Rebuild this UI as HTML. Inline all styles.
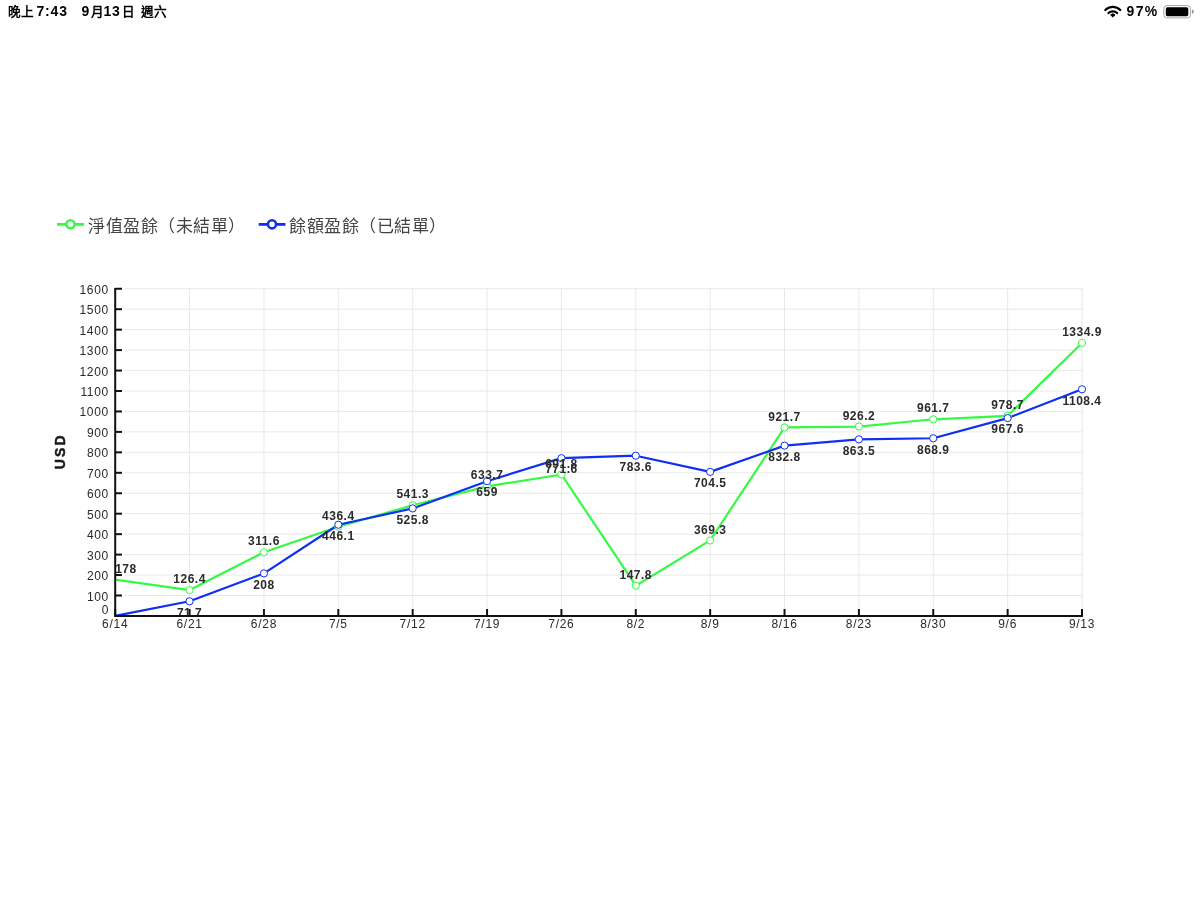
<!DOCTYPE html>
<html lang="zh-TW"><head><meta charset="utf-8">
<style>
html,body{margin:0;padding:0;background:#fff;width:1200px;height:900px;overflow:hidden}
body{font-family:"Liberation Sans",sans-serif;position:relative}
#wrap{position:absolute;left:0;top:0;width:1200px;height:900px;will-change:transform}
svg{position:absolute;left:0;top:0}
.dl{font-family:"Liberation Sans",sans-serif;font-size:12px;font-weight:bold;fill:#2b2b2b;letter-spacing:0.5px}
.tl{font-family:"Liberation Sans",sans-serif;font-size:12px;fill:#2a2a2a;letter-spacing:0.7px}
.usd{font-family:"Liberation Sans",sans-serif;font-size:14px;font-weight:bold;fill:#1a1a1a;stroke:#1a1a1a;stroke-width:0.5px;letter-spacing:2.2px}
.sb{position:absolute;top:0;height:24px;font-weight:bold;font-size:13.5px;color:#000;line-height:23px;white-space:nowrap}
.dg{letter-spacing:0.8px;font-size:14px}
.cj{font-size:12.6px;top:1px}
.leg{position:absolute;top:215.5px;font-size:17px;color:#444;line-height:22px;white-space:nowrap;letter-spacing:0.5px}
</style></head><body><div id="wrap">
<div class="sb cj" style="left:7.6px">晚上</div>
<div class="sb dg" style="left:36.5px">7:43</div>
<div class="sb dg" style="left:81.5px">9</div>
<div class="sb cj" style="left:91px">月</div>
<div class="sb dg" style="left:103.5px">13</div>
<div class="sb cj" style="left:121.5px">日</div>
<div class="sb cj" style="left:141px">週六</div>
<div class="sb dg" style="left:1126.5px;letter-spacing:1.4px">97%</div>
<svg width="1200" height="900" viewBox="0 0 1200 900">
<!-- wifi -->
<g fill="none" stroke="#000" stroke-width="2.2" stroke-linecap="round">
<path d="M1105.30 10.00 A10.4 10.4 0 0 1 1120.30 10.00"/>
<path d="M1108.50 13.10 A6 6 0 0 1 1117.10 13.10"/>
</g>
<path d="M1112.80 17.00 L1110.60 14.90 A3.1 3.1 0 0 1 1115.00 14.90 Z" fill="#000" stroke="#000" stroke-width="0.9" stroke-linejoin="round"/>
<!-- battery -->
<rect x="1163.8" y="5.6" width="26.8" height="12.3" rx="3.2" fill="none" stroke="#a5a5a5" stroke-width="1"/>
<rect x="1165.8" y="7.3" width="22.5" height="8.9" rx="1.6" fill="#000"/>
<path d="M1192 9.6 L1192 13.8 C1193.2 13.4 1193.8 12.6 1193.8 11.7 C1193.8 10.8 1193.2 10 1192 9.6Z" fill="#9a9a9a"/>
<!-- legend icons -->
<line x1="57" y1="224.4" x2="84" y2="224.4" stroke="#35fa45" stroke-width="2.8"/>
<circle cx="70.5" cy="224.3" r="4.1" fill="#fff" stroke="#35fa45" stroke-width="2.6"/>
<line x1="258.7" y1="224.4" x2="285.5" y2="224.4" stroke="#0f2ff5" stroke-width="2.8"/>
<circle cx="272" cy="224.3" r="4.1" fill="#fff" stroke="#0f2ff5" stroke-width="2.6"/>
<g stroke="#e8e8e8" stroke-width="1"><line x1="124" y1="595.50" x2="1082.81" y2="595.50"/><line x1="124" y1="575.05" x2="1082.81" y2="575.05"/><line x1="124" y1="554.60" x2="1082.81" y2="554.60"/><line x1="124" y1="534.15" x2="1082.81" y2="534.15"/><line x1="124" y1="513.70" x2="1082.81" y2="513.70"/><line x1="124" y1="493.25" x2="1082.81" y2="493.25"/><line x1="124" y1="472.80" x2="1082.81" y2="472.80"/><line x1="124" y1="452.35" x2="1082.81" y2="452.35"/><line x1="124" y1="431.90" x2="1082.81" y2="431.90"/><line x1="124" y1="411.45" x2="1082.81" y2="411.45"/><line x1="124" y1="391.00" x2="1082.81" y2="391.00"/><line x1="124" y1="370.55" x2="1082.81" y2="370.55"/><line x1="124" y1="350.10" x2="1082.81" y2="350.10"/><line x1="124" y1="329.65" x2="1082.81" y2="329.65"/><line x1="124" y1="309.20" x2="1082.81" y2="309.20"/><line x1="124" y1="288.75" x2="1082.81" y2="288.75"/><line x1="189.57" y1="288" x2="189.57" y2="609"/><line x1="263.94" y1="288" x2="263.94" y2="609"/><line x1="338.31" y1="288" x2="338.31" y2="609"/><line x1="412.68" y1="288" x2="412.68" y2="609"/><line x1="487.05" y1="288" x2="487.05" y2="609"/><line x1="561.42" y1="288" x2="561.42" y2="609"/><line x1="635.79" y1="288" x2="635.79" y2="609"/><line x1="710.16" y1="288" x2="710.16" y2="609"/><line x1="784.53" y1="288" x2="784.53" y2="609"/><line x1="858.90" y1="288" x2="858.90" y2="609"/><line x1="933.27" y1="288" x2="933.27" y2="609"/><line x1="1007.64" y1="288" x2="1007.64" y2="609"/><line x1="1082.01" y1="288" x2="1082.01" y2="609"/></g>
<polyline points="115.20,579.55 189.57,590.10 263.94,552.23 338.31,526.71 412.68,505.25 487.05,486.36 561.42,474.48 635.79,585.72 710.16,540.43 784.53,427.46 858.90,426.54 933.27,419.28 1007.64,415.81 1082.01,342.96" fill="none" stroke="#35fa45" stroke-width="2.2" stroke-linejoin="round"/>
<polyline points="115.20,615.95 189.57,601.29 263.94,573.41 338.31,524.72 412.68,508.42 487.05,481.18 561.42,458.16 635.79,455.70 710.16,471.88 784.53,445.64 858.90,439.36 933.27,438.26 1007.64,418.08 1082.01,389.28" fill="none" stroke="#0f2ff5" stroke-width="2.2" stroke-linejoin="round"/>
<g fill="#fff" stroke="#35fa45" stroke-width="1"><circle cx="189.57" cy="590.10" r="3.6"/><circle cx="263.94" cy="552.23" r="3.6"/><circle cx="338.31" cy="526.71" r="3.6"/><circle cx="412.68" cy="505.25" r="3.6"/><circle cx="487.05" cy="486.36" r="3.6"/><circle cx="561.42" cy="474.48" r="3.6"/><circle cx="635.79" cy="585.72" r="3.6"/><circle cx="710.16" cy="540.43" r="3.6"/><circle cx="784.53" cy="427.46" r="3.6"/><circle cx="858.90" cy="426.54" r="3.6"/><circle cx="933.27" cy="419.28" r="3.6"/><circle cx="1007.64" cy="415.81" r="3.6"/><circle cx="1082.01" cy="342.96" r="3.6"/></g>
<g fill="#fff" stroke="#0f2ff5" stroke-width="1"><circle cx="189.57" cy="601.29" r="3.6"/><circle cx="263.94" cy="573.41" r="3.6"/><circle cx="338.31" cy="524.72" r="3.6"/><circle cx="412.68" cy="508.42" r="3.6"/><circle cx="487.05" cy="481.18" r="3.6"/><circle cx="561.42" cy="458.16" r="3.6"/><circle cx="635.79" cy="455.70" r="3.6"/><circle cx="710.16" cy="471.88" r="3.6"/><circle cx="784.53" cy="445.64" r="3.6"/><circle cx="858.90" cy="439.36" r="3.6"/><circle cx="933.27" cy="438.26" r="3.6"/><circle cx="1007.64" cy="418.08" r="3.6"/><circle cx="1082.01" cy="389.28" r="3.6"/></g>
<g class="dl" text-anchor="middle"><text x="115.20" y="572.65" text-anchor="start">178</text><text x="189.57" y="583.20">126.4</text><text x="263.94" y="545.33">311.6</text><text x="338.31" y="519.81">436.4</text><text x="412.68" y="498.35">541.3</text><text x="487.05" y="479.46">633.7</text><text x="561.42" y="467.58">691.8</text><text x="635.79" y="578.82">147.8</text><text x="710.16" y="533.53">369.3</text><text x="784.53" y="420.56">921.7</text><text x="858.90" y="419.64">926.2</text><text x="933.27" y="412.38">961.7</text><text x="1007.64" y="408.91">978.7</text><text x="1082.01" y="336.06">1334.9</text><text x="189.57" y="616.59">71.7</text><text x="263.94" y="588.71">208</text><text x="338.31" y="540.02">446.1</text><text x="412.68" y="523.72">525.8</text><text x="487.05" y="496.48">659</text><text x="561.42" y="473.46">771.6</text><text x="635.79" y="471.00">783.6</text><text x="710.16" y="487.18">704.5</text><text x="784.53" y="460.94">832.8</text><text x="858.90" y="454.66">863.5</text><text x="933.27" y="453.56">868.9</text><text x="1007.64" y="433.38">967.6</text><text x="1082.01" y="404.58">1108.4</text></g>
<g stroke="#111" stroke-width="2" stroke-linecap="butt"><line x1="115.20" y1="287.9" x2="115.20" y2="616.5" /><line x1="114.20" y1="615.95" x2="1082.91" y2="615.95" /><line x1="115.20" y1="615.95" x2="122" y2="615.95"/><line x1="115.20" y1="595.50" x2="122" y2="595.50"/><line x1="115.20" y1="575.05" x2="122" y2="575.05"/><line x1="115.20" y1="554.60" x2="122" y2="554.60"/><line x1="115.20" y1="534.15" x2="122" y2="534.15"/><line x1="115.20" y1="513.70" x2="122" y2="513.70"/><line x1="115.20" y1="493.25" x2="122" y2="493.25"/><line x1="115.20" y1="472.80" x2="122" y2="472.80"/><line x1="115.20" y1="452.35" x2="122" y2="452.35"/><line x1="115.20" y1="431.90" x2="122" y2="431.90"/><line x1="115.20" y1="411.45" x2="122" y2="411.45"/><line x1="115.20" y1="391.00" x2="122" y2="391.00"/><line x1="115.20" y1="370.55" x2="122" y2="370.55"/><line x1="115.20" y1="350.10" x2="122" y2="350.10"/><line x1="115.20" y1="329.65" x2="122" y2="329.65"/><line x1="115.20" y1="309.20" x2="122" y2="309.20"/><line x1="115.20" y1="288.75" x2="122" y2="288.75"/><line x1="115.20" y1="609" x2="115.20" y2="615.95"/><line x1="189.57" y1="609" x2="189.57" y2="615.95"/><line x1="263.94" y1="609" x2="263.94" y2="615.95"/><line x1="338.31" y1="609" x2="338.31" y2="615.95"/><line x1="412.68" y1="609" x2="412.68" y2="615.95"/><line x1="487.05" y1="609" x2="487.05" y2="615.95"/><line x1="561.42" y1="609" x2="561.42" y2="615.95"/><line x1="635.79" y1="609" x2="635.79" y2="615.95"/><line x1="710.16" y1="609" x2="710.16" y2="615.95"/><line x1="784.53" y1="609" x2="784.53" y2="615.95"/><line x1="858.90" y1="609" x2="858.90" y2="615.95"/><line x1="933.27" y1="609" x2="933.27" y2="615.95"/><line x1="1007.64" y1="609" x2="1007.64" y2="615.95"/><line x1="1082.01" y1="609" x2="1082.01" y2="615.95"/></g>
<g class="tl" text-anchor="end"><text x="109" y="600.50">100</text><text x="109" y="580.05">200</text><text x="109" y="559.60">300</text><text x="109" y="539.15">400</text><text x="109" y="518.70">500</text><text x="109" y="498.25">600</text><text x="109" y="477.80">700</text><text x="109" y="457.35">800</text><text x="109" y="436.90">900</text><text x="109" y="416.45">1000</text><text x="109" y="396.00">1100</text><text x="109" y="375.55">1200</text><text x="109" y="355.10">1300</text><text x="109" y="334.65">1400</text><text x="109" y="314.20">1500</text><text x="109" y="293.75">1600</text><text x="109" y="613.5">0</text></g>
<g class="tl" text-anchor="middle"><text x="115.20" y="627.5">6/14</text><text x="189.57" y="627.5">6/21</text><text x="263.94" y="627.5">6/28</text><text x="338.31" y="627.5">7/5</text><text x="412.68" y="627.5">7/12</text><text x="487.05" y="627.5">7/19</text><text x="561.42" y="627.5">7/26</text><text x="635.79" y="627.5">8/2</text><text x="710.16" y="627.5">8/9</text><text x="784.53" y="627.5">8/16</text><text x="858.90" y="627.5">8/23</text><text x="933.27" y="627.5">8/30</text><text x="1007.64" y="627.5">9/6</text><text x="1082.01" y="627.5">9/13</text></g>
<text class="usd" transform="translate(64.6,451.2) rotate(-90)" text-anchor="middle">USD</text>
</svg>
<div class="leg" style="left:88px">淨值盈餘（未結單）</div>
<div class="leg" style="left:289px">餘額盈餘（已結單）</div>
</div></body></html>
